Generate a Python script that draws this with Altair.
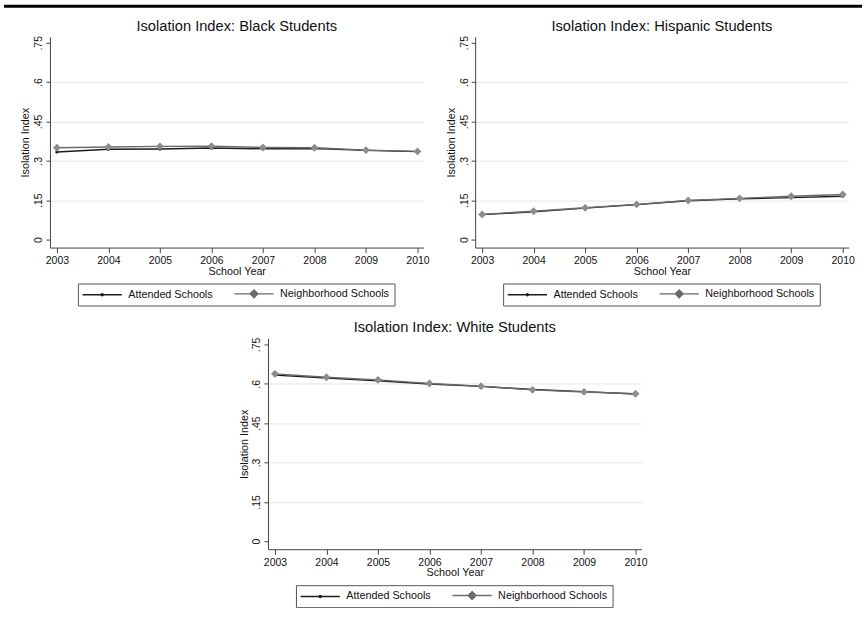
import altair as alt
import pandas as pd

# ---------------- data ----------------
years = [2003, 2004, 2005, 2006, 2007, 2008, 2009, 2010]
series_names = ["Attended Schools", "Neighborhood Schools"]

black_attended = [0.334, 0.344, 0.345, 0.349, 0.346, 0.347, 0.340, 0.335]
black_neighborhood = [0.350, 0.353, 0.355, 0.356, 0.351, 0.350, 0.341, 0.336]

hispanic_attended = [0.095, 0.106, 0.120, 0.133, 0.148, 0.155, 0.160, 0.165]
hispanic_neighborhood = [0.096, 0.108, 0.121, 0.134, 0.149, 0.157, 0.165, 0.172]

white_attended = [0.633, 0.622, 0.611, 0.599, 0.590, 0.578, 0.570, 0.561]
white_neighborhood = [0.638, 0.625, 0.615, 0.601, 0.591, 0.577, 0.569, 0.562]

y_ticks = [0, 0.15, 0.3, 0.45, 0.6, 0.75]

FONT = "Liberation Sans"
TEXT = "#111111"
AXIS = "#444444"
LINE_COLORS = ["#1c1c1c", "#6a6a6a"]
MARK_FILLS = ["#1c1c1c", "#8c8c8c"]

# legend symbols: a short line with the series marker drawn in its middle
ATT_PATH = ("M-6.55,0L6.55,0 "
            "M-0.35,0A0.35,0.35,0,1,1,0.35,0A0.35,0.35,0,1,1,-0.35,0Z")
NB_PATH = ("M-6.55,0L6.55,0 "
           "M0,-1.3L1.3,0L0,1.3L-1.3,0Z "
           "M0,-0.8L0.8,0L0,0.8L-0.8,0Z "
           "M0,-0.35L0.35,0L0,0.35L-0.35,0Z")

W, H = 374, 211


def make_df(att, nb):
    rows = []
    for s, vals in zip(series_names, [att, nb]):
        for yr, v in zip(years, vals):
            rows.append({"year": yr, "series": s, "value": v})
    return pd.DataFrame(rows)


def pick(a, b):
    return alt.expr(f"datum.value == 'Attended Schools' ? '{a}' : '{b}'")


def anchor_point(xpos):
    # invisible point used only to fix the panel's bounding box for layout
    return alt.Chart(pd.DataFrame({"k": [0]})).mark_point(
        filled=True, size=1, opacity=0, strokeWidth=0
    ).encode(x=alt.value(xpos), y=alt.value(100))


def panel(title, att, nb, left_pad, right_pad=None):
    df = make_df(att, nb)
    base = alt.Chart(df)
    x = alt.X(
        "year:Q",
        scale=alt.Scale(domain=[2002.865, 2010.117], nice=False, zero=False),
        axis=alt.Axis(
            values=years, format="d", title="School Year", grid=False,
            tickSize=5, labelPadding=3, tickColor=AXIS, domainColor=AXIS,
            labelFont=FONT, labelFontSize=10.5, labelColor=TEXT,
            titleFont=FONT, titleFontSize=10.8, titleFontWeight="normal",
            titleColor=TEXT, titlePadding=-1,
        ),
    )
    y = alt.Y(
        "value:Q",
        scale=alt.Scale(domain=[-0.0305, 0.7728], nice=False, zero=False),
        axis=alt.Axis(
            values=y_ticks,
            labelExpr="datum.value == 0 ? '0' : substring(format(datum.value, '.2~f'), 1)",
            labelAngle=270, labelAlign="center", labelBaseline="bottom",
            tickSize=4, labelPadding=2, tickColor=AXIS, domainColor=AXIS,
            labelFont=FONT, labelFontSize=10.5, labelColor=TEXT,
            title="Isolation Index", titleFont=FONT, titleFontSize=10.8,
            titleFontWeight="normal", titleColor=TEXT, titlePadding=3,
            grid=True, gridColor="#e6e6e6",
            gridOpacity={"condition": {"test": "datum.value <= 0 || datum.value >= 0.74", "value": 0}, "value": 1},
        ),
    )
    legend = alt.Legend(
        title=None, orient="none", legendX=28, legendY=247, direction="horizontal",
        strokeColor="#555555", fillColor="white", padding=4.5,
        labelFont=FONT, labelFontSize=10.8, labelColor=TEXT,
        symbolSize=36, symbolStrokeWidth=1.4, symbolOffset=14.4, labelOffset=20.7,
        columnPadding=18,
        symbolType=pick(ATT_PATH, NB_PATH),
        symbolFillColor=pick(*MARK_FILLS),
    )
    lines = base.mark_line(strokeWidth=1.4).encode(
        x=x, y=y,
        color=alt.Color("series:N", scale=alt.Scale(domain=series_names, range=LINE_COLORS), legend=legend),
    )
    att_points = base.transform_filter(alt.datum.series == series_names[0]).mark_point(
        filled=True, opacity=1, strokeWidth=0, shape="circle", size=11, color=MARK_FILLS[0]
    ).encode(x=x, y=y)
    nb_points = base.transform_filter(alt.datum.series == series_names[1]).mark_point(
        filled=True, opacity=1, strokeWidth=0, shape="diamond", size=62, color=MARK_FILLS[1]
    ).encode(x=x, y=y)
    layers = [lines, att_points, nb_points, anchor_point(-left_pad)]
    if right_pad is not None:
        layers.append(anchor_point(W + right_pad))
    return alt.layer(*layers).properties(
        width=W, height=H,
        title=alt.TitleParams(
            title, font=FONT, fontSize=14.7, fontWeight="normal", color=TEXT,
            anchor="middle", frame="group", offset=2,
        ),
    )


def independent(c):
    return c.resolve_scale(color="independent", x="independent", y="independent").resolve_legend(
        color="independent"
    )


black = panel("Isolation Index: Black Students", black_attended, black_neighborhood, 45.5, right_pad=8.4)
hisp = panel("Isolation Index: Hispanic Students", hispanic_attended, hispanic_neighborhood, 40)
white = panel("Isolation Index: White Students", white_attended, white_neighborhood, 40)

spacer = alt.Chart(pd.DataFrame({"k": [0]})).mark_point(opacity=0).encode(
    x=alt.value(77), y=alt.value(100)
).properties(width=154, height=H)

rule_row = alt.Chart(pd.DataFrame({"k": [0]})).mark_rule(color="black", strokeWidth=3).encode(
    x=alt.value(-46), x2=alt.value(813), y=alt.value(0)
).properties(width=700, height=1)

top_row = independent(alt.hconcat(black, hisp, spacing=1.7))
bottom_row = independent(alt.hconcat(spacer, white, spacing=23.3))
inner = independent(alt.vconcat(top_row, bottom_row, spacing=13))

chart = independent(alt.vconcat(rule_row, inner, spacing=9.5)).properties(
    padding={"left": 2, "top": 4, "right": 0, "bottom": 0},
    background="white",
).configure_view(stroke=None)

chart.save("out.html", embed_options={"renderer": "svg", "actions": False})
